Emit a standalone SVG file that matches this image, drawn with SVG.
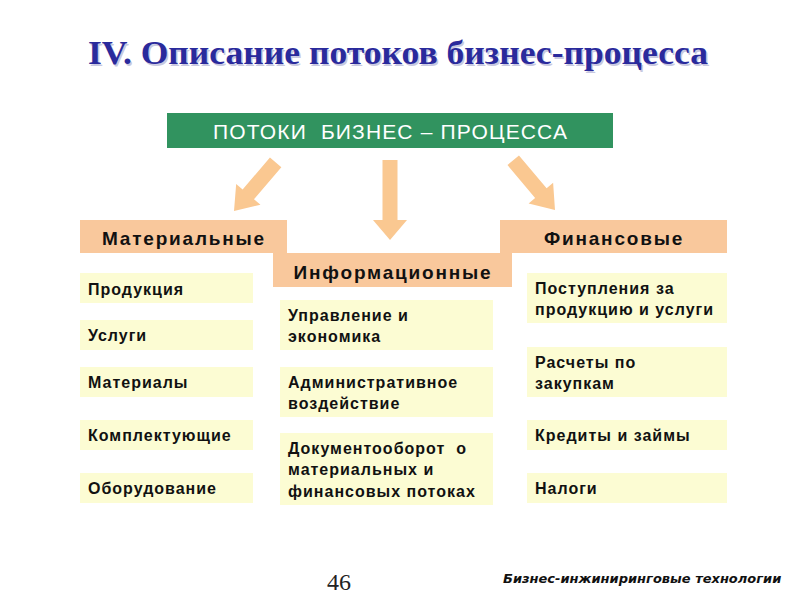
<svg xmlns="http://www.w3.org/2000/svg" width="800" height="600" viewBox="0 0 800 600">
<style>
.title{font-family:"Liberation Serif",serif;font-weight:bold;font-size:33px;fill:#2a2a9c}
.hdr{fill:#f9c89c}
.hdrt{font-family:"Liberation Sans",Arial,sans-serif;font-weight:bold;font-size:19px;letter-spacing:1.8px;fill:#111;text-anchor:middle}
.item{fill:#fcfcd3}
.it{font-family:"Liberation Sans",Arial,sans-serif;font-weight:bold;font-size:16px;letter-spacing:1px;fill:#111}
.arr{fill:#fac891}
</style>
<rect width="800" height="600" fill="#ffffff"/>
<text class="title" x="89.5" y="65.5" textLength="620" lengthAdjust="spacingAndGlyphs" style="fill:#c8c8e0">IV. Описание потоков бизнес-процесса</text>
<text class="title" x="88" y="64" textLength="620" lengthAdjust="spacingAndGlyphs">IV. Описание потоков бизнес-процесса</text>

<g id="root">
<rect x="167" y="113" width="446" height="35" fill="#31935f"/>
<text x="213" y="139" font-family="Liberation Sans, Arial, sans-serif" font-size="21" fill="#ffffff" textLength="354" lengthAdjust="spacing" xml:space="preserve">ПОТОКИ  БИЗНЕС – ПРОЦЕССА</text>
</g>

<g id="connectors">
<polygon class="arr" transform="translate(234,211) rotate(40.6)" points="-7.5,-64 7.5,-64 7.5,-22 16,-22 0,0 -16,-22 -7.5,-22"/>
<polygon class="arr" transform="translate(390,240)" points="-7.5,-80 7.5,-80 7.5,-20 17,-20 0,0 -17,-20 -7.5,-20"/>
<polygon class="arr" transform="translate(555,210) rotate(-40)" points="-7.5,-65 7.5,-65 7.5,-22 16,-22 0,0 -16,-22 -7.5,-22"/>
</g>

<g id="mat-header"><rect class="hdr" x="80" y="220" width="207" height="33"/><text class="hdrt" x="184" y="245">Материальные</text></g>
<g id="fin-header"><rect class="hdr" x="500" y="220" width="227" height="33"/><text class="hdrt" x="614" y="245">Финансовые</text></g>
<g id="info-header"><rect class="hdr" x="273" y="253" width="239" height="34"/><text class="hdrt" x="393" y="279">Информационные</text></g>

<g id="m1"><rect class="item" x="80" y="273" width="173" height="30"/><text class="it" x="88" y="295">Продукция</text></g>
<g id="m2"><rect class="item" x="80" y="320" width="173" height="30"/><text class="it" x="88" y="341">Услуги</text></g>
<g id="m3"><rect class="item" x="80" y="367" width="173" height="30"/><text class="it" x="88" y="388">Материалы</text></g>
<g id="m4"><rect class="item" x="80" y="420" width="173" height="30"/><text class="it" x="88" y="441">Комплектующие</text></g>
<g id="m5"><rect class="item" x="80" y="473" width="173" height="30"/><text class="it" x="88" y="494">Оборудование</text></g>

<g id="i1"><rect class="item" x="280" y="300" width="213" height="50"/><text class="it" x="288" y="321">Управление и</text><text class="it" x="288" y="342">экономика</text></g>
<g id="i2"><rect class="item" x="280" y="367" width="213" height="50"/><text class="it" x="288" y="388">Административное</text><text class="it" x="288" y="409">воздействие</text></g>
<g id="i3"><rect class="item" x="280" y="433" width="213" height="72"/><text class="it" x="288" y="454" xml:space="preserve">Документооборот  о</text><text class="it" x="288" y="475">материальных и</text><text class="it" x="288" y="497">финансовых потоках</text></g>

<g id="f1"><rect class="item" x="527" y="273" width="200" height="50"/><text class="it" x="535" y="294">Поступления за</text><text class="it" x="535" y="315">продукцию и услуги</text></g>
<g id="f2"><rect class="item" x="527" y="347" width="200" height="50"/><text class="it" x="535" y="368">Расчеты по</text><text class="it" x="535" y="389">закупкам</text></g>
<g id="f3"><rect class="item" x="527" y="420" width="200" height="30"/><text class="it" x="535" y="441">Кредиты и займы</text></g>
<g id="f4"><rect class="item" x="527" y="473" width="200" height="30"/><text class="it" x="535" y="494">Налоги</text></g>

<text x="339" y="590" text-anchor="middle" font-family="Liberation Serif, serif" font-size="24" fill="#222">46</text>
<text x="503" y="583" font-family="DejaVu Sans, sans-serif" font-weight="bold" font-style="italic" font-size="13" fill="#111">Бизнес-инжиниринговые технологии</text>
</svg>
